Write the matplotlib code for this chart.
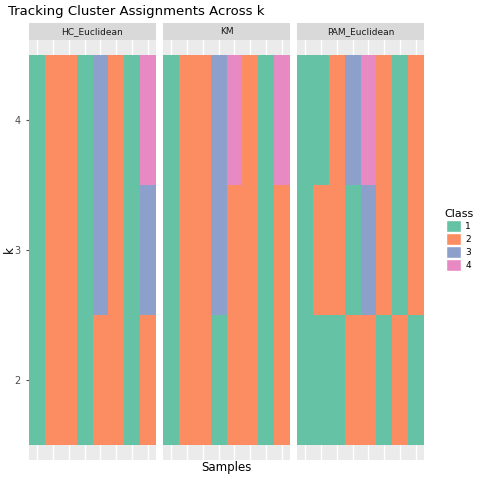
import matplotlib
matplotlib.use("Agg")
import matplotlib.pyplot as plt
import numpy as np
from matplotlib.colors import ListedColormap
from matplotlib.patches import Patch

methods = ["HC_Euclidean", "KM", "PAM_Euclidean"]
ks = [2, 3, 4]
# rows: k=2, k=3, k=4 ; columns: 8 samples
assign = {
    "HC_Euclidean": [[1,2,2,1,2,2,1,2],
                     [1,2,2,1,3,2,1,3],
                     [1,2,2,1,3,2,1,4]],
    "KM":           [[1,2,2,1,2,2,1,2],
                     [1,2,2,3,2,2,1,2],
                     [1,2,2,3,4,2,1,4]],
    "PAM_Euclidean":[[1,1,1,2,2,1,2,1],
                     [1,2,2,1,3,2,1,2],
                     [1,1,2,3,4,2,1,2]],
}
classes = ["1", "2", "3", "4"]
colors = ["#66C2A5", "#FC8D62", "#8DA0CB", "#E78AC3"]
cmap = ListedColormap(colors)

fig = plt.figure(figsize=(4.8, 4.8), dpi=100)
W, H = 480, 480
lefts = [29, 163, 297]
pw = 127
top, bottom = 40, 460
for i, m in enumerate(methods):
    ax = fig.add_axes([lefts[i]/W, 1-bottom/H, pw/W, (bottom-top)/H])
    ax.set_facecolor("#EBEBEB")
    data = np.array(assign[m])
    n = data.shape[1]
    ax.pcolormesh(np.arange(0.5, n+1), np.array(ks+[5]) - 0.5, data - 1,
                  cmap=cmap, vmin=-0.5, vmax=3.5, zorder=2)
    ax.set_xlim(0.5, n + 0.5)
    ax.set_ylim(1.385, 4.615)
    ax.set_xticks(range(1, n+1))
    ax.set_yticks(ks)
    ax.grid(True, color="white", lw=1.0, zorder=1)
    ax.set_axisbelow(True)
    ax.tick_params(length=0, labelbottom=False)
    if i == 0:
        ax.tick_params(axis="y", labelsize=7, colors="#4D4D4D", pad=4, length=2)
    else:
        ax.set_yticklabels([])
    for s in ax.spines.values():
        s.set_visible(False)
    sax = fig.add_axes([lefts[i]/W, 1-top/H, pw/W, 17/H])
    sax.set_facecolor("#D9D9D9")
    sax.set_xticks([]); sax.set_yticks([])
    for s in sax.spines.values():
        s.set_visible(False)
    sax.text(0.5, 0.5, m, ha="center", va="center", fontsize=6.5, color="#1A1A1A")

fig.text(9/W, 1-250/H, "k", ha="center", va="center", fontsize=8.5, rotation=90)
fig.text(226/W, 1-468/H, "Samples", ha="center", va="center", fontsize=8.5)
fig.text(8/W, 1-12/H, "Tracking Cluster Assignments Across k", ha="left", va="center", fontsize=9.5)
handles = [Patch(facecolor=c, edgecolor="white", label=l) for c, l in zip(colors, classes)]
fig.legend(handles=handles, title="Class", loc="center left", bbox_to_anchor=(436/W, 0.5),
           frameon=False, fontsize=6.5, title_fontsize=8, handlelength=1.6, handleheight=1.6,
           labelspacing=0.15, handletextpad=0.5)
fig.savefig("out.png", dpi=100)
